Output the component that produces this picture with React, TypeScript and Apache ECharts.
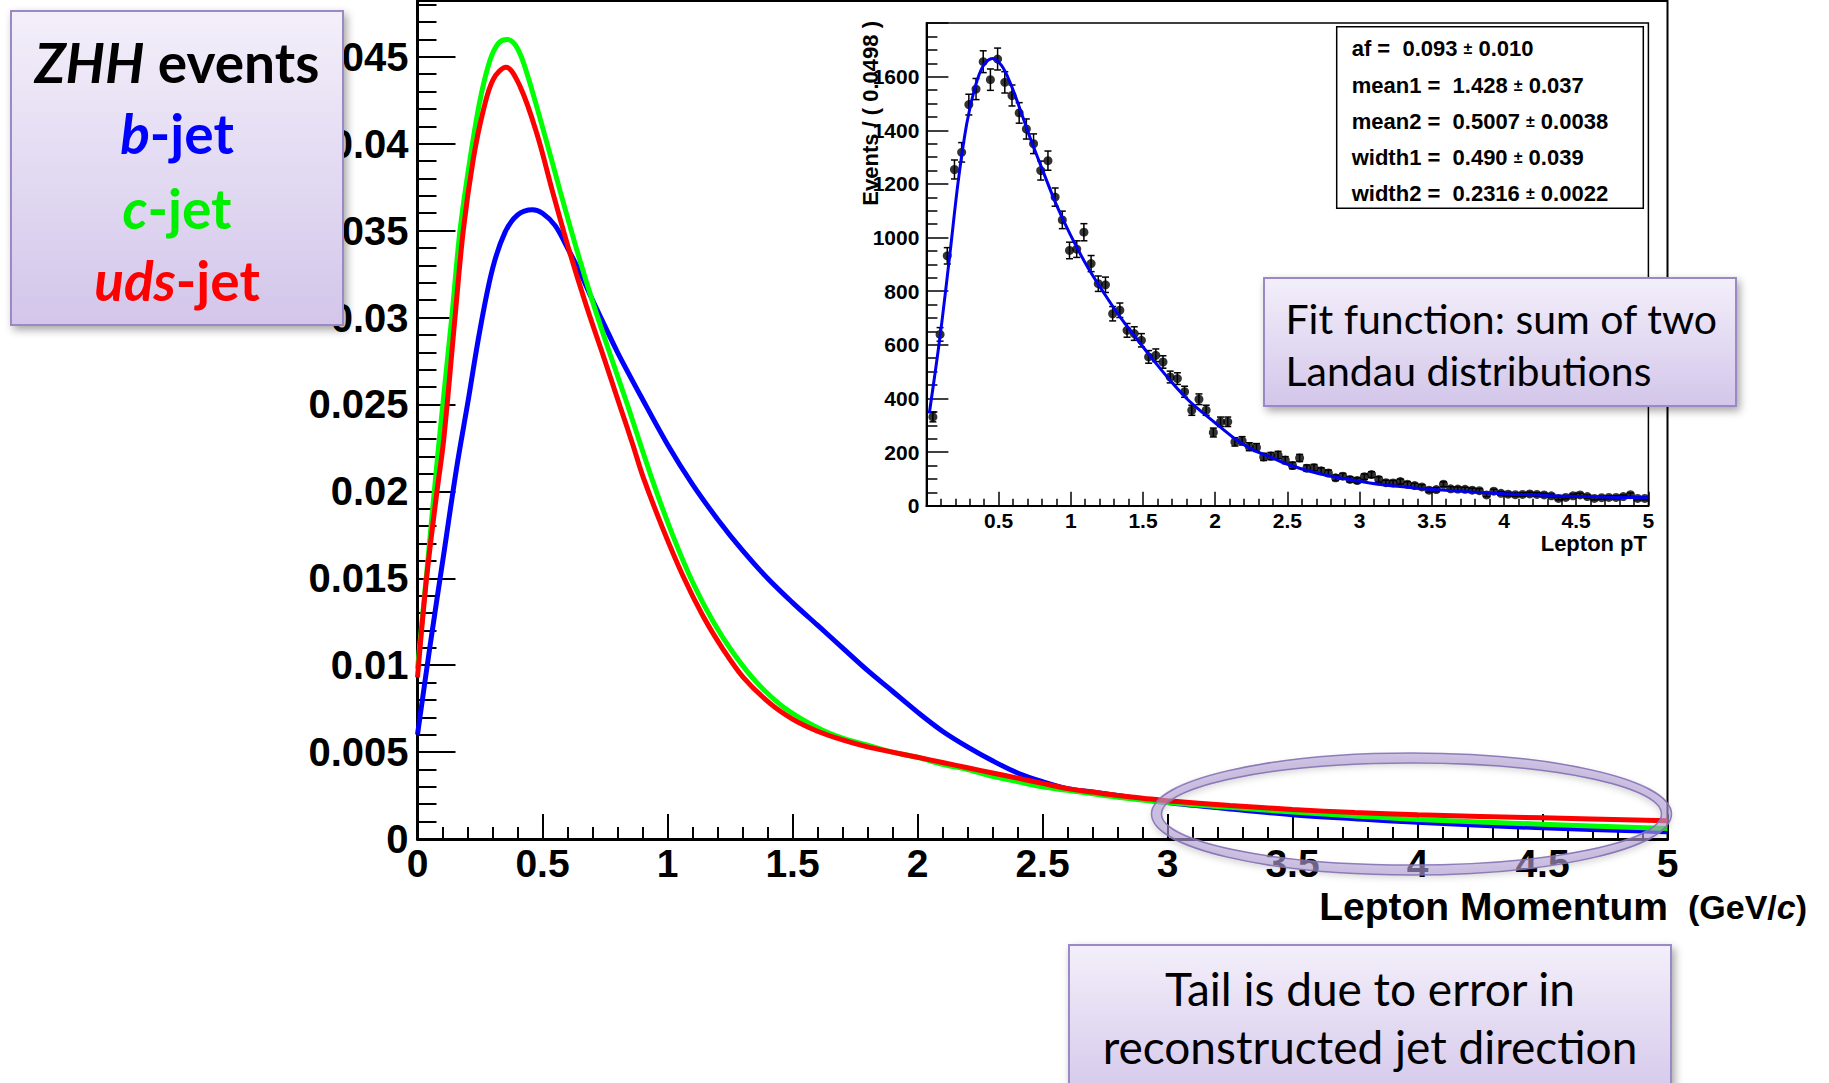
import React, { useEffect, useRef } from 'react';
import * as echarts from 'echarts';

// ---------- main plot: lepton momentum shapes (x in GeV/c, y normalised) ----------
const bJet: [number, number][] = [
  [0, 0.006], [0.05, 0.0111], [0.103, 0.0162], [0.157, 0.0214], [0.2, 0.025], [0.25, 0.0293],
  [0.3, 0.0328], [0.35, 0.0349], [0.4, 0.0359], [0.46, 0.0362], [0.5, 0.036], [0.55, 0.0353],
  [0.6, 0.034], [0.65, 0.0326], [0.7, 0.031], [0.75, 0.0295], [0.8, 0.028], [0.9, 0.0253],
  [1.0, 0.0227], [1.1, 0.0204], [1.2, 0.0184], [1.3, 0.0166], [1.4, 0.015], [1.5, 0.0136],
  [1.6, 0.0123], [1.7, 0.011], [1.8, 0.0097], [1.9, 0.0085], [2.0, 0.0073], [2.1, 0.0062],
  [2.2, 0.0053], [2.3, 0.0045], [2.4, 0.0038], [2.5, 0.0033], [2.6, 0.0029], [2.7, 0.0027],
  [2.8, 0.0025], [3.0, 0.0021], [3.25, 0.00173], [3.5, 0.0014], [3.75, 0.00117], [4.0, 0.00096],
  [4.5, 0.00064], [5.0, 0.00042],
];
const cJet: [number, number][] = [
  [0, 0.0098], [0.04, 0.0158], [0.083, 0.0224], [0.137, 0.03], [0.17, 0.035], [0.21, 0.0391],
  [0.25, 0.0425], [0.29, 0.0448], [0.325, 0.0458], [0.359, 0.046], [0.395, 0.0456], [0.43, 0.0444],
  [0.503, 0.0408], [0.57, 0.0373], [0.637, 0.0339], [0.703, 0.0308], [0.77, 0.0279], [0.837, 0.0251],
  [0.943, 0.0205], [1.023, 0.0174], [1.103, 0.0147], [1.183, 0.0125], [1.263, 0.0107], [1.357, 0.009],
  [1.463, 0.0076], [1.6, 0.0064], [1.7, 0.0058], [1.8, 0.0054], [1.9, 0.005], [2.0, 0.0047],
  [2.1, 0.0043], [2.2, 0.004], [2.3, 0.0036], [2.4, 0.0033], [2.5, 0.003], [2.6, 0.0028],
  [2.7, 0.0026], [2.8, 0.0024], [3.0, 0.0021], [3.25, 0.00182], [3.5, 0.00155], [3.75, 0.00133],
  [4.0, 0.00112], [4.5, 0.00085], [5.0, 0.0006],
];
const udsJet: [number, number][] = [
  [0, 0.0093], [0.037, 0.0151], [0.077, 0.0199], [0.105, 0.023], [0.15, 0.03], [0.183, 0.035],
  [0.223, 0.0391], [0.263, 0.0419], [0.303, 0.0437], [0.354, 0.0444], [0.41, 0.0433], [0.477, 0.0406],
  [0.543, 0.0371], [0.61, 0.0337], [0.677, 0.0306], [0.743, 0.0278], [0.81, 0.0249], [0.861, 0.0227],
  [0.903, 0.0208], [0.983, 0.0178], [1.063, 0.0151], [1.143, 0.0128], [1.223, 0.0109], [1.303, 0.0093],
  [1.41, 0.0078], [1.5, 0.0069], [1.6, 0.0062], [1.7, 0.0057], [1.8, 0.0053], [1.9, 0.005],
  [2.0, 0.0047], [2.1, 0.0044], [2.2, 0.0041], [2.3, 0.0038], [2.4, 0.0035], [2.5, 0.0032],
  [2.6, 0.0029], [2.7, 0.0027], [2.8, 0.0025], [2.9, 0.00235], [3.0, 0.0022], [3.25, 0.00193],
  [3.5, 0.0017], [3.75, 0.00152], [4.0, 0.00139], [4.5, 0.00122], [5.0, 0.00105],
];

// ---------- inset: b-jet lepton pT histogram + fit ----------
const insetBinStart = 0.02;
const insetBinWidth = 0.0498;
const insetCounts: number[] = [
  331, 639, 932, 1254, 1318, 1496, 1554, 1656, 1589, 1666,
  1579, 1530, 1465, 1405, 1350, 1250, 1287, 1151, 1066, 952,
  957, 1020, 903, 828, 824, 716, 729, 654, 642, 617,
  555, 561, 536, 480, 474, 425, 356, 397, 356, 273,
  313, 313, 238, 242, 220, 217, 182, 185, 189, 170,
  150, 178, 140, 142, 130, 122, 104, 110, 98, 94,
  108, 116, 98, 86, 85, 90, 80, 75, 70, 58,
  60, 80, 63, 62, 61, 58, 56, 40, 54, 46,
  43, 41, 42, 44, 42, 40, 37, 27, 31, 37,
  40, 34, 27, 30, 31, 31, 34, 41, 27, 27,
];
const insetFit: [number, number][] = [
  [0.02, 344], [0.094, 629], [0.163, 940], [0.221, 1213], [0.279, 1424], [0.337, 1561], [0.394, 1641],
  [0.459, 1668], [0.521, 1641], [0.579, 1579], [0.648, 1480], [0.717, 1374], [0.81, 1244], [0.902, 1120],
  [0.994, 1014], [1.11, 896], [1.225, 797], [1.341, 704], [1.456, 623], [1.572, 543], [1.687, 468],
  [1.802, 400], [1.918, 345], [2.034, 294], [2.149, 245], [2.265, 207], [2.38, 182], [2.519, 151],
  [2.714, 120], [2.945, 96], [3.176, 77], [3.407, 65], [3.638, 56], [3.869, 48], [4.1, 43],
  [4.33, 37], [4.56, 34], [4.79, 31], [5.0, 30],
];
const statsNames = ['af =', 'mean1 =', 'mean2 =', 'width1 =', 'width2 ='];
const statsValues = ['0.093', '1.428', '0.5007', '0.490', '0.2316'];
const statsErrors = ['0.010', '0.037', '0.0038', '0.039', '0.0022'];

const ROOT_FONT = "'Liberation Sans', Arial, Helvetica, sans-serif";
const PPT_FONT = "Lato, 'Open Sans', sans-serif";

const boxFill = {
  type: 'linear', x: 0, y: 0, x2: 0, y2: 1,
  colorStops: [{ offset: 0, color: '#f3effa' }, { offset: 1, color: '#d3c6ea' }],
};
const boxStyle = {
  fill: boxFill, stroke: '#9b89c5', lineWidth: 2,
  shadowBlur: 8, shadowOffsetX: 3, shadowOffsetY: 4, shadowColor: 'rgba(0,0,0,0.35)',
};

function legendLine(y: number, italic: string, rest: string, color: string) {
  return {
    type: 'text', x: 177, y, z: 101,
    style: {
      text: `{i|${italic}}{n|${rest}}`, align: 'center', verticalAlign: 'middle',
      rich: {
        i: { fontFamily: PPT_FONT, fontWeight: 'bold', fontStyle: 'italic', fontSize: 55, fill: color },
        n: { fontFamily: PPT_FONT, fontWeight: 'bold', fontSize: 55, fill: color },
      },
    },
  };
}

export default function App() {
  const ref = useRef<HTMLDivElement>(null);
  useEffect(() => {
    if (!ref.current) return;
    const chart = echarts.init(ref.current, null, { renderer: 'svg' });
    const mainYMax = 0.04821;
    const tickStyle = { color: '#000', width: 2 };
    const insetPoints = insetCounts.map((c, i) => [insetBinStart + insetBinWidth * (i + 0.5), c]);

    const statsGraphics: any[] = [];
    statsNames.forEach((n, i) => {
      statsGraphics.push({
        type: 'text', x: 1351.7, y: 48.7 + i * 36.3, z: 60,
        style: {
          text: `{l|${n}\u00a0 ${statsValues[i]} }{p|±}{l| ${statsErrors[i]}}`,
          verticalAlign: 'middle', align: 'left',
          rich: {
            l: { fontFamily: ROOT_FONT, fontWeight: 'bold', fontSize: 22, fill: '#000' },
            p: { fontFamily: ROOT_FONT, fontWeight: 'bold', fontSize: 16, fill: '#000' },
          },
        },
      });
    });

    const option: any = {
      animation: false,
      backgroundColor: '#fff',
      grid: [
        { left: 417.5, right: 161.5, top: 1, bottom: 244, show: true, borderColor: '#000', borderWidth: 2, backgroundColor: 'transparent' },
        { left: 926.4, right: 180.6, top: 23.1, bottom: 577.3, show: true, borderColor: '#000', borderWidth: 1.5, backgroundColor: '#fff' },
      ],
      xAxis: [
        {
          type: 'value', gridIndex: 0, min: 0, max: 5, interval: 0.5,
          axisLine: { lineStyle: { color: '#000', width: 3 } },
          axisTick: { inside: true, length: 25, lineStyle: tickStyle },
          minorTick: { show: true, splitNumber: 5, length: 12, lineStyle: tickStyle },
          splitLine: { show: false },
          axisLabel: { fontFamily: ROOT_FONT, fontWeight: 'bold', fontSize: 39, lineHeight: 30, color: '#000', margin: 9 },
        },
        {
          type: 'value', gridIndex: 1, min: 0, max: 5, interval: 0.5,
          axisLine: { lineStyle: { color: '#000', width: 2 } },
          axisTick: { inside: true, length: 14, lineStyle: { color: '#000', width: 1.5 } },
          minorTick: { show: true, splitNumber: 5, length: 7, lineStyle: { color: '#000', width: 1.5 } },
          splitLine: { show: false },
          axisLabel: { fontFamily: ROOT_FONT, fontWeight: 'bold', fontSize: 21, color: '#000', margin: 4, showMinLabel: false },
        },
      ],
      yAxis: [
        {
          type: 'value', gridIndex: 0, position: 'left', min: 0, max: mainYMax, interval: 0.005,
          axisLine: { show: true, lineStyle: { color: '#000', width: 3 } },
          axisTick: { inside: true, length: 38, lineStyle: tickStyle },
          splitLine: { show: false },
          axisLabel: { fontFamily: ROOT_FONT, fontWeight: 'bold', fontSize: 40, color: '#000', margin: 9, showMaxLabel: false },
        },
        {
          type: 'value', gridIndex: 0, position: 'left', min: 0, max: mainYMax, interval: 0.001,
          axisLine: { show: false },
          axisTick: { show: true, inside: true, length: 19, lineStyle: tickStyle },
          splitLine: { show: false },
          axisLabel: { show: false },
        },
        {
          type: 'value', gridIndex: 1, position: 'left', min: 0, max: 1800, interval: 200,
          axisLine: { show: true, lineStyle: { color: '#000', width: 2 } },
          axisTick: { inside: true, length: 22, lineStyle: { color: '#000', width: 1.5 } },
          minorTick: { show: true, splitNumber: 4, length: 11, lineStyle: { color: '#000', width: 1.5 } },
          splitLine: { show: false },
          axisLabel: {
            fontFamily: ROOT_FONT, fontWeight: 'bold', fontSize: 21, color: '#000', margin: 7, showMaxLabel: false,
            formatter: (v: number) => String(v),
          },
        },
      ],
      series: [
        { name: 'b-jet', type: 'line', xAxisIndex: 0, yAxisIndex: 0, data: bJet, smooth: 0.35, showSymbol: false, lineStyle: { color: '#0000ff', width: 5 }, z: 2 },
        { name: 'c-jet', type: 'line', xAxisIndex: 0, yAxisIndex: 0, data: cJet, smooth: 0.35, showSymbol: false, lineStyle: { color: '#00ff00', width: 5 }, z: 3 },
        { name: 'uds-jet', type: 'line', xAxisIndex: 0, yAxisIndex: 0, data: udsJet, smooth: 0.35, showSymbol: false, lineStyle: { color: '#ff0000', width: 5 }, z: 4 },
        {
          name: 'errors', type: 'custom', xAxisIndex: 1, yAxisIndex: 2,
          data: insetPoints.map(([x, y]) => [x, y - Math.sqrt(y), y + Math.sqrt(y)]),
          encode: { x: 0, y: [1, 2] },
          renderItem: (params: any, api: any) => {
            const x = api.value(0);
            const lo = api.coord([x, api.value(1)]);
            const hi = api.coord([x, api.value(2)]);
            const cw = 3.5;
            const st = { stroke: '#000', lineWidth: 1.5 };
            return {
              type: 'group',
              children: [
                { type: 'line', shape: { x1: lo[0], y1: lo[1], x2: hi[0], y2: hi[1] }, style: st },
                { type: 'line', shape: { x1: lo[0] - cw, y1: lo[1], x2: lo[0] + cw, y2: lo[1] }, style: st },
                { type: 'line', shape: { x1: hi[0] - cw, y1: hi[1], x2: hi[0] + cw, y2: hi[1] }, style: st },
              ],
            };
          },
          z: 5,
        },
        { name: 'data', type: 'scatter', xAxisIndex: 1, yAxisIndex: 2, data: insetPoints, symbol: 'circle', symbolSize: 9, itemStyle: { color: '#000' }, z: 6 },
        { name: 'fit', type: 'line', xAxisIndex: 1, yAxisIndex: 2, data: insetFit, smooth: 0.35, showSymbol: false, lineStyle: { color: '#0000ee', width: 3 }, z: 7 },
      ],
      graphic: [
        // axis titles
        {
          type: 'text', x: 1668, y: 906, z: 50,
          style: { text: 'Lepton Momentum', align: 'right', verticalAlign: 'middle', fontFamily: ROOT_FONT, fontWeight: 'bold', fontSize: 39, lineHeight: 30, fill: '#000' },
        },
        {
          type: 'text', x: 1688, y: 907, z: 50,
          style: {
            text: '{a|(GeV/}{b|c}{a|)}', align: 'left', verticalAlign: 'middle',
            rich: {
              a: { fontFamily: ROOT_FONT, fontWeight: 'bold', fontSize: 34, lineHeight: 30, fill: '#000' },
              b: { fontFamily: ROOT_FONT, fontWeight: 'bold', fontStyle: 'italic', fontSize: 34, lineHeight: 30, fill: '#000' },
            },
          },
        },
        {
          type: 'text', x: 870, y: 21, rotation: Math.PI / 2, z: 50,
          style: { text: 'Events / ( 0.0498 )', align: 'right', verticalAlign: 'middle', fontFamily: ROOT_FONT, fontWeight: 'bold', fontSize: 22, fill: '#000' },
        },
        {
          type: 'text', x: 1647, y: 543, z: 50,
          style: { text: 'Lepton pT', align: 'right', verticalAlign: 'middle', fontFamily: ROOT_FONT, fontWeight: 'bold', fontSize: 22, fill: '#000' },
        },
        // stats box
        { type: 'rect', shape: { x: 1336.7, y: 26.7, width: 306.6, height: 181.6 }, style: { fill: '#fff', stroke: '#000', lineWidth: 1.5 }, z: 55 },
        ...statsGraphics,
        // ZHH legend box
        { type: 'rect', shape: { x: 11, y: 11, width: 332, height: 314 }, style: boxStyle, z: 100 },
        legendLine(62, 'ZHH', ' events', '#000'),
        legendLine(133, 'b', '-jet', '#0000ff'),
        legendLine(208, 'c', '-jet', '#00ee00'),
        legendLine(280, 'uds', '-jet', '#ff0000'),
        // fit function box
        { type: 'rect', shape: { x: 1264, y: 278, width: 472, height: 128 }, style: boxStyle, z: 100 },
        {
          type: 'text', x: 1285.5, y: 318, z: 101,
          style: { text: 'Fit function: sum of two', align: 'left', verticalAlign: 'middle', fontFamily: PPT_FONT, fontSize: 41, fill: '#000' },
        },
        {
          type: 'text', x: 1285.5, y: 370, z: 101,
          style: { text: 'Landau distributions', align: 'left', verticalAlign: 'middle', fontFamily: PPT_FONT, fontSize: 41, fill: '#000' },
        },
        // tail box
        { type: 'rect', shape: { x: 1069, y: 945, width: 602, height: 160 }, style: boxStyle, z: 100 },
        {
          type: 'text', x: 1370, y: 988, z: 101,
          style: { text: 'Tail is due to error in', align: 'center', verticalAlign: 'middle', fontFamily: PPT_FONT, fontSize: 46, fill: '#000' },
        },
        {
          type: 'text', x: 1370, y: 1046, z: 101,
          style: { text: 'reconstructed jet direction', align: 'center', verticalAlign: 'middle', fontFamily: PPT_FONT, fontSize: 46, fill: '#000' },
        },
        // highlight ellipse
        {
          type: 'ellipse', shape: { cx: 1411.5, cy: 814, rx: 255, ry: 56 }, z: 100,
          style: { fill: 'none', stroke: 'rgba(178,160,214,0.6)', lineWidth: 10, shadowBlur: 6, shadowOffsetY: 3, shadowColor: 'rgba(0,0,0,0.25)' },
        },
        { type: 'ellipse', shape: { cx: 1411.5, cy: 814, rx: 260, ry: 61 }, z: 101, style: { fill: 'none', stroke: 'rgba(128,108,176,0.85)', lineWidth: 1.5 } },
        { type: 'ellipse', shape: { cx: 1411.5, cy: 814, rx: 250, ry: 51 }, z: 101, style: { fill: 'none', stroke: 'rgba(128,108,176,0.85)', lineWidth: 1.5 } },
      ],
    };
    chart.setOption(option);
    return () => chart.dispose();
  }, []);
  return <div ref={ref} style={{ position: 'fixed', left: 0, top: 0, width: 1829, height: 1083, background: '#fff' }} />;
}
